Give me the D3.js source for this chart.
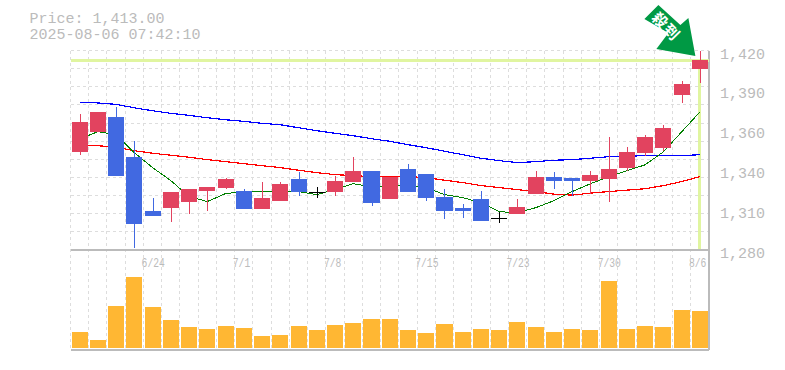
<!DOCTYPE html>
<html>
<head>
<meta charset="utf-8">
<script src="https://cdnjs.cloudflare.com/ajax/libs/d3/7.8.5/d3.min.js"></script>
<style>
  html, body { margin: 0; padding: 0; background: #fff; }
  svg { display: block; }
  text { font-family: "Liberation Mono", monospace; fill: #bbb; }
  .grid { stroke: #ddd; stroke-dasharray: 3 3; shape-rendering: crispEdges; }
  .ma { fill: none; shape-rendering: optimizeSpeed; }
</style>
</head>
<body>
<div id="chart"></div>
<script>
const dates = ["6/18","6/19","6/20","6/23","6/24","6/25","6/26","6/27","6/30","7/1","7/2","7/3","7/4","7/7","7/8","7/9","7/10","7/11","7/14","7/15","7/16","7/17","7/18","7/22","7/23","7/24","7/25","7/28","7/29","7/30","7/31","8/1","8/4","8/5","8/6"];
const dateLabels = ["6/24","7/1","7/8","7/15","7/23","7/30","8/6"];

const opens  = [1349,1363,1373.5,1345.5,1307.5,1309.5,1314,1321.5,1323.5,1321.5,1309,1314.5,1329.5,1321,1320.5,1328,1335.5,1316,1336.5,1333.5,1317.5,1309.5,1315.5,1302.5,1305,1319,1331.5,1330.5,1328.5,1330,1337.5,1348,1351.5,1388.5,1407];
const highs  = [1375.5,1377,1380.5,1356.5,1316.5,1321,1322.5,1324.5,1330.5,1322.5,1328,1328,1335,1324.5,1332,1345,1335.5,1331.5,1340.5,1333.5,1322.5,1312.5,1321.5,1307,1315.5,1335.5,1335,1330.5,1335.5,1359.5,1352.5,1361,1367.5,1398.5,1420];
const lows   = [1347,1363,1332,1281.5,1304,1300,1305,1307.5,1323,1309,1309,1314.5,1318,1316.5,1318,1328,1311,1316,1321,1314.5,1302,1302.5,1300.5,1299,1305,1319,1323,1318,1319.5,1314,1335.5,1346,1349.5,1383,1397];
const closes = [1370,1377,1332,1298,1304,1321,1322.5,1324.5,1329.5,1309,1316.5,1326.5,1321,1321,1328.5,1335.5,1313,1331.5,1321,1316.5,1307.5,1307.5,1300.5,1302.5,1310.5,1331.5,1328.5,1328.5,1332.5,1336.5,1349,1359.5,1365.5,1396.5,1413];
const volumes = [16,8,42,71,41,28,21,19,22,20,12,13,22,18,23,25,29,29,18,15,24,16,19,18,26,21,16,19,18,67,19,22,21,38,37];

const maShort = [1358,1363,1360.9,1348.3,1337.8,1328.7,1317.5,1314,1319.6,1321,1321,1321,1321,1318.9,1322.4,1326.5,1324.4,1325.2,1325.2,1323.8,1318.9,1316.8,1313.2,1306.9,1306.2,1309.7,1314.6,1321,1326.5,1331.4,1335.6,1339.8,1348.9,1362.9,1376.9];
const maMid   = [1353.2,1353.2,1352.1,1349.7,1347.9,1346.5,1345.1,1343.4,1342,1340.6,1339.2,1337.8,1336,1334.3,1332.9,1332.2,1331.5,1331.5,1331.5,1330.8,1329,1327.3,1325.2,1323.8,1322.4,1321,1319.2,1318.5,1319.9,1321,1322,1323,1325.2,1328,1331.5];
const maLong  = [1383.7,1383.2,1382.2,1379.8,1377.7,1375.9,1374.5,1372.8,1371.4,1370.3,1368.9,1367.9,1365.8,1363.7,1361.9,1360.2,1358.1,1356.3,1353.9,1351.8,1349.3,1346.9,1344.4,1342.7,1341.3,1342,1343,1343.4,1344.4,1345.5,1345.8,1346.2,1346.2,1346.2,1346.9];

const priceTicks = [1420,1392,1364,1336,1308,1280];
const priceLabels = ["1,420","1,390","1,360","1,340","1,310","1,280"];
const lastPrice = 1413;

const width = 785, height = 370;
const plotLeft = 70.5, plotRight = 709, plotTop = 50.5, plotMid = 250, plotBottom = 350;

const svg = d3.select("#chart").append("svg")
    .attr("width", width)
    .attr("height", height);

const x = d3.scaleBand()
    .domain(dates)
    .range([plotLeft, plotRight])
    .paddingInner(0.12)
    .paddingOuter(0.06);

const y = d3.scaleLinear().domain([1280, 1420]).range([plotMid, plotTop]);
const yVol = d3.scaleLinear().domain([0, 100]).range([plotBottom - 2, plotBottom - 102]);
const cx = d => x(d) + x.bandwidth() / 2;

// grid
const step = (plotRight - plotLeft) / dates.length;
const gridX = d3.range(dates.length).map(i => plotLeft + i * step);
const gridY = d3.range(0, 11).map(i => plotTop + i * (plotMid - plotTop) / 11);

svg.append("g").selectAll("line")
    .data(gridX)
  .enter().append("line")
    .attr("class", "grid")
    .attr("x1", d => d).attr("x2", d => d)
    .attr("y1", plotTop).attr("y2", plotBottom);

svg.append("g").selectAll("line")
    .data(gridY)
  .enter().append("line")
    .attr("class", "grid")
    .attr("x1", plotLeft).attr("x2", plotRight)
    .attr("y1", d => d).attr("y2", d => d);

// frame
[[plotLeft, plotMid, plotRight, plotMid], [plotLeft, plotBottom, plotRight, plotBottom], [plotRight, plotTop, plotRight, plotBottom]].forEach(([x1, y1, x2, y2]) => {
  svg.append("line")
      .attr("x1", x1).attr("y1", y1).attr("x2", x2).attr("y2", y2)
      .attr("stroke", "#bbb")
      .attr("stroke-width", 1.5)
      .attr("shape-rendering", "crispEdges");
});

// current price marker
const lastDate = dates[dates.length - 1];
svg.append("line")
    .attr("x1", plotLeft).attr("x2", plotRight)
    .attr("y1", y(lastPrice)).attr("y2", y(lastPrice))
    .attr("stroke", "#e0f5a0").attr("stroke-width", 3)
    .attr("shape-rendering", "crispEdges");
svg.append("line")
    .attr("x1", cx(lastDate)).attr("x2", cx(lastDate))
    .attr("y1", y(lastPrice)).attr("y2", plotMid - 1)
    .attr("stroke", "#e0f5a0").attr("stroke-width", 3)
    .attr("shape-rendering", "crispEdges");

// moving averages
const line = d3.line().x((d, i) => cx(dates[i])).y(d => y(d));
[[maLong, "#0000ff", 1.2], [maMid, "#ff0000", 1.2], [maShort, "#008000", 1]].forEach(([s, c, w]) => {
  svg.append("path")
      .datum(s)
      .attr("class", "ma")
      .attr("stroke", c)
      .attr("stroke-width", w)
      .attr("d", line);
});

// candles
const colour = i => closes[i] > opens[i] ? "#e2435f" : closes[i] < opens[i] ? "#4169e1" : "#000";
const candles = svg.append("g").attr("shape-rendering", "crispEdges")
  .selectAll("g")
    .data(dates)
  .enter().append("g");

candles.append("line")
    .attr("x1", d => Math.round(cx(d)) + .5)
    .attr("x2", d => Math.round(cx(d)) + .5)
    .attr("y1", (d, i) => y(highs[i]))
    .attr("y2", (d, i) => y(lows[i]))
    .attr("stroke", (d, i) => colour(i));

candles.append("rect")
    .attr("x", d => x(d))
    .attr("width", x.bandwidth())
    .attr("y", (d, i) => y(Math.max(opens[i], closes[i])))
    .attr("height", (d, i) => Math.max(1.5, Math.abs(y(opens[i]) - y(closes[i]))))
    .attr("fill", (d, i) => colour(i));

// volume
svg.append("g").attr("shape-rendering", "crispEdges")
  .selectAll("rect")
    .data(volumes)
  .enter().append("rect")
    .attr("x", (d, i) => x(dates[i]))
    .attr("width", x.bandwidth())
    .attr("y", d => yVol(d))
    .attr("height", d => yVol(0) - yVol(d))
    .attr("fill", "#ffb733");

// axes
const yAxis = d3.axisRight(y)
    .tickValues(priceTicks)
    .tickSize(0)
    .tickFormat((d, i) => priceLabels[i]);
svg.append("g")
    .attr("transform", `translate(${plotRight},0)`)
    .call(yAxis)
    .call(g => g.select(".domain").remove())
    .selectAll("text")
      .attr("x", 11)
      .attr("dy", 7.5)
      .style("font-size", "15px");

const xAxis = d3.axisBottom(x)
    .tickValues(dateLabels)
    .tickSize(0);
svg.append("g")
    .attr("transform", `translate(0,${plotMid})`)
    .call(xAxis)
    .call(g => g.select(".domain").remove())
    .selectAll("text")
      .attr("text-anchor", "start")
      .attr("x", -11)
      .attr("y", 0)
      .attr("dy", 16.5)
      .attr("textLength", d => d.length * 5.8)
      .attr("lengthAdjust", "spacingAndGlyphs")
      .style("font-size", "12px");

// header, squeezed a little in height so the two lines clear each other
[["Price: 1,413.00", 22.8], ["2025-08-06 07:42:10", 38.5]].forEach(([t, b]) => {
  svg.append("text")
      .attr("x", 29.5)
      .attr("y", b)
      .attr("textLength", t.length * 9)
      .attr("lengthAdjust", "spacingAndGlyphs")
      .style("font-size", "14px")
      .text(t);
});

// signal arrow, placed from its tip just left of the last candle
const arrow = svg.append("g")
    .attr("transform", `translate(${cx(lastDate) - 4.5},${y(lastPrice) - 4.5})`);
arrow.append("path")
    .attr("d", "M-51,-37L-37,-51L-15,-31L-7,-38L0,0L-39,-7L-27,-23Z")
    .attr("fill", "#009944");
arrow.append("text")
    .attr("transform", "translate(-29.5,-29) rotate(45)")
    .attr("text-anchor", "middle")
    .attr("dy", 5)
    .style("font-family", "'Noto Sans CJK JP'")
    .style("font-weight", "bold")
    .style("font-size", "15px")
    .style("letter-spacing", "1.5px")
    .style("fill", "#fff")
    .text("殺到");
</script>
</body>
</html>
